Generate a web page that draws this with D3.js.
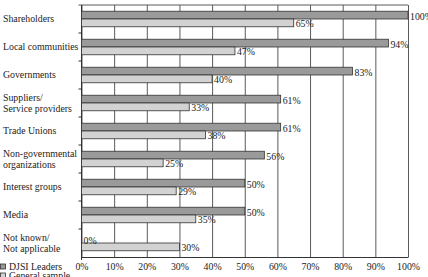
<!DOCTYPE html>
<html>
<head>
<meta charset="utf-8">
<script src="https://cdn.jsdelivr.net/npm/d3@7"></script>
<style>
  body { margin: 0; background: #fff; }
  text { font-family: "Liberation Serif", "DejaVu Serif", serif; fill: #222; }
</style>
</head>
<body>
<script>
let categories = [
    ["Shareholders"],
    ["Local communities"],
    ["Governments"],
    ["Suppliers/", "Service providers"],
    ["Trade Unions"],
    ["Non-governmental", "organizations"],
    ["Interest groups"],
    ["Media"],
    ["Not known/", "Not applicable"]
];
let djsiLeaders = [100, 94, 83, 61, 61, 56, 50, 50, 0];
let generalSample = [65, 47, 40, 33, 38, 25, 29, 35, 30];
let seriesNames = ["DJSI Leaders", "General sample"];
let xTicks = [0, 10, 20, 30, 40, 50, 60, 70, 80, 90, 100];

let width = 428, height = 277;
let plotLeft = 81.5, plotRight = 408, plotTop = 5, plotBottom = 257;
let colors = ["#9a9a9a", "#d2d2d2"];
let fontSize = 9.8;

let svg = d3.select("body").append("svg")
    .attr("width", width)
    .attr("height", height);

let x = d3.scaleLinear().domain([0, 100]).range([plotLeft, plotRight]);
let y0 = d3.scaleBand().domain(d3.range(categories.length)).range([plotTop, plotBottom]);
let y1 = d3.scaleBand().domain(seriesNames).range([0, y0.bandwidth()]).paddingOuter(0.8);

// grid + bottom axis
let xAxis = d3.axisBottom(x)
    .tickValues(xTicks)
    .tickFormat((d) => d + "%")
    .tickSizeInner(-(plotBottom - plotTop))
    .tickSizeOuter(0)
    .tickPadding(6);

let gx = svg.append("g")
    .attr("transform", `translate(0, ${plotBottom})`)
    .call(xAxis);
gx.selectAll("line").attr("stroke", "#5a5a5a");
gx.select(".domain").attr("stroke", "#333");
gx.selectAll("text")
    .attr("font-size", fontSize)
    .attr("font-family", "Liberation Serif")
    .attr("fill", "#222");

// top border
svg.append("line")
    .attr("x1", plotLeft - 3).attr("x2", plotRight)
    .attr("y1", plotTop).attr("y2", plotTop)
    .attr("stroke", "#5a5a5a");

// left axis with ticks between categories
svg.append("line")
    .attr("x1", plotLeft).attr("x2", plotLeft)
    .attr("y1", plotTop).attr("y2", plotBottom + 3)
    .attr("stroke", "#333");
svg.selectAll(".ytick")
    .data(d3.range(1, categories.length))
    .enter()
        .append("line")
        .attr("class", "ytick")
        .attr("x1", plotLeft - 3).attr("x2", plotLeft)
        .attr("y1", (i) => y0(i)).attr("y2", (i) => y0(i))
        .attr("stroke", "#333");

// bars
let rows = categories.map((c, i) => ({ i: i, values: [djsiLeaders[i], generalSample[i]] }));

let groups = svg.selectAll(".row")
    .data(rows)
    .enter()
        .append("g")
        .attr("class", "row")
        .attr("transform", (d) => `translate(0, ${y0(d.i)})`);

groups.selectAll("rect")
    .data((d) => d.values.map((v, k) => ({ v: v, k: k })).filter((b) => b.v > 0))
    .enter()
        .append("rect")
        .attr("x", x(0))
        .attr("y", (d) => y1(seriesNames[d.k]))
        .attr("width", (d) => x(d.v) - x(0))
        .attr("height", y1.bandwidth())
        .attr("fill", (d) => colors[d.k])
        .attr("stroke", "#333")
        .attr("stroke-width", 0.8);

groups.selectAll(".val")
    .data((d) => d.values.map((v, k) => ({ v: v, k: k })))
    .enter()
        .append("text")
        .attr("class", "val")
        .attr("x", (d) => x(d.v) + 2)
        .attr("y", (d) => y1(seriesNames[d.k]) + y1.bandwidth() / 2 + 1)
        .attr("dy", "0.35em")
        .attr("font-size", fontSize)
        .text((d) => d.v + "%");

// category labels
groups.append("text")
    .attr("font-size", fontSize)
    .selectAll("tspan")
    .data((d) => categories[d.i])
    .enter()
        .append("tspan")
        .attr("x", 3)
        .attr("y", (t, j, nodes) => y0.bandwidth() / 2 + (j - (nodes.length - 1) / 2) * 10.5)
        .attr("dy", "0.35em")
        .text((t) => t);

// legend
let legend = svg.selectAll(".legend")
    .data(seriesNames)
    .enter()
        .append("g")
        .attr("class", "legend")
        .attr("transform", (d, i) => `translate(0, ${266.5 + i * 9})`);

legend.append("rect")
    .attr("x", 0.5).attr("y", -2.5)
    .attr("width", 5).attr("height", 5)
    .attr("fill", (d, i) => colors[i])
    .attr("stroke", "#333")
    .attr("stroke-width", 0.8);

legend.append("text")
    .attr("x", 9)
    .attr("dy", "0.35em")
    .attr("font-size", fontSize)
    .text((d) => d);
</script>
</body>
</html>
